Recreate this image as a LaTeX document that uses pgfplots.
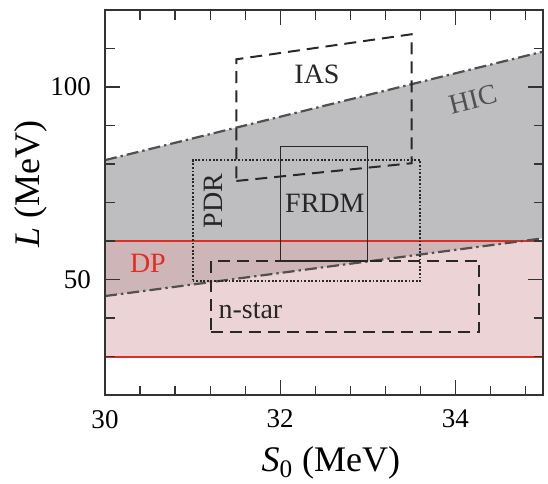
\documentclass[border=0pt]{standalone}
\usepackage{pgfplots}
\pgfplotsset{compat=1.18}
\usepackage{fontspec}
\setmainfont{Liberation Serif}
\definecolor{hicgray}{RGB}{190,190,192}
\definecolor{dppink}{RGB}{219,173,177}
\definecolor{dpred}{RGB}{226,45,35}
\definecolor{hicline}{RGB}{80,80,80}
\definecolor{boxline}{RGB}{40,40,40}
\begin{document}
\begin{tikzpicture}
\begin{axis}[
  name=ax,
  scale only axis, width=219pt, height=192.5pt,
  xmin=30, xmax=35, ymin=20, ymax=120,
  xtick={30,32,34}, ytick={50,100},
  minor xtick={30.4,30.8,31.2,31.6,32.4,32.8,33.2,33.6,34.4,34.8},
  minor ytick={30,40,60,70,80,90,110},
  tick align=inside,
  major tick length=7.5pt, minor tick length=4.75pt,
  every tick/.style={line width=0.6pt, color=black!80},
  axis line style={line width=1pt, color=black!80},
  tick label style={font=\fontsize{13.5}{16}\selectfont},
  /pgf/number format/assume math mode=true,
  yticklabel style={xshift=-3.5pt},
  xticklabel style={yshift=-4pt},
  xlabel={\textit{S}\textsubscript{0} (MeV)},
  ylabel={\textit{L} (MeV)},
  label style={font=\fontsize{18}{21}\selectfont},
  xlabel style={at={(axis description cs:0.5155,-0.1995)}, anchor=base},
  ylabel style={at={(axis description cs:-0.1484,0.548)}, anchor=base},
  axis on top=true,
]
% HIC region
\addplot[draw=none, fill=hicgray] coordinates {(30,81) (35,109.2) (35,60.7) (30,45.7)} -- cycle;
% DP band
\addplot[draw=none, fill=dppink, fill opacity=0.52] coordinates {(30,30) (35,30) (35,60) (30,60)} -- cycle;
\addplot[dpred, line width=1pt] coordinates {(30,60) (35,60)};
\addplot[dpred, line width=1pt] coordinates {(30,30) (35,30)};
% HIC boundaries
\addplot[hicline, line width=1.1pt, dash pattern=on 6pt off 2pt on 1.2pt off 2pt] coordinates {(30,81) (35,109.2)};
\addplot[hicline, line width=1.1pt, dash pattern=on 6pt off 2pt on 1.2pt off 2pt] coordinates {(30,45.7) (35,60.7)};
% FRDM
\addplot[boxline, line width=0.6pt] coordinates {(32,54.8) (33,54.8) (33,84.5) (32,84.5)} -- cycle;
% PDR
\addplot[boxline, line width=1pt, dash pattern=on 0.9pt off 0.9pt] coordinates {(31,49.6) (33.6,49.6) (33.6,81) (31,81)} -- cycle;
% IAS
\addplot[boxline, line width=1pt, dash pattern=on 6pt off 3.5pt] coordinates {(31.5,75.6) (33.5,80.2) (33.5,113.7) (31.5,107.2)} -- cycle;
% n-star
\addplot[boxline, line width=1pt, dash pattern=on 6pt off 3.5pt] coordinates {(31.21,36.3) (34.27,36.3) (34.27,54.9) (31.21,54.9)} -- cycle;
% labels
\node[font=\fontsize{14}{16}\selectfont, text=black!85] at (axis cs:32.42,103.3) {IAS};
\node[font=\fontsize{14}{16}\selectfont, text=hicline, rotate=14] at (axis cs:34.2,96.8) {HIC};
\node[font=\fontsize{14}{16}\selectfont, text=black!85, rotate=90] at (axis cs:31.24,70.35) {PDR};
\node[font=\fontsize{14}{16}\selectfont, text=black!85] at (axis cs:32.51,69.75) {FRDM};
\node[font=\fontsize{14}{16}\selectfont, text=dpred] at (axis cs:30.49,54.3) {DP};
\node[font=\fontsize{14}{16}\selectfont, text=black!85] at (axis cs:31.66,41.8) {n-star};
\end{axis}
\pgfresetboundingbox
\path[use as bounding box] ([shift={(-52.5pt,-44pt)}]ax.south west) rectangle ([shift={(2.5pt,5pt)}]ax.north east);
\end{tikzpicture}
\end{document}
